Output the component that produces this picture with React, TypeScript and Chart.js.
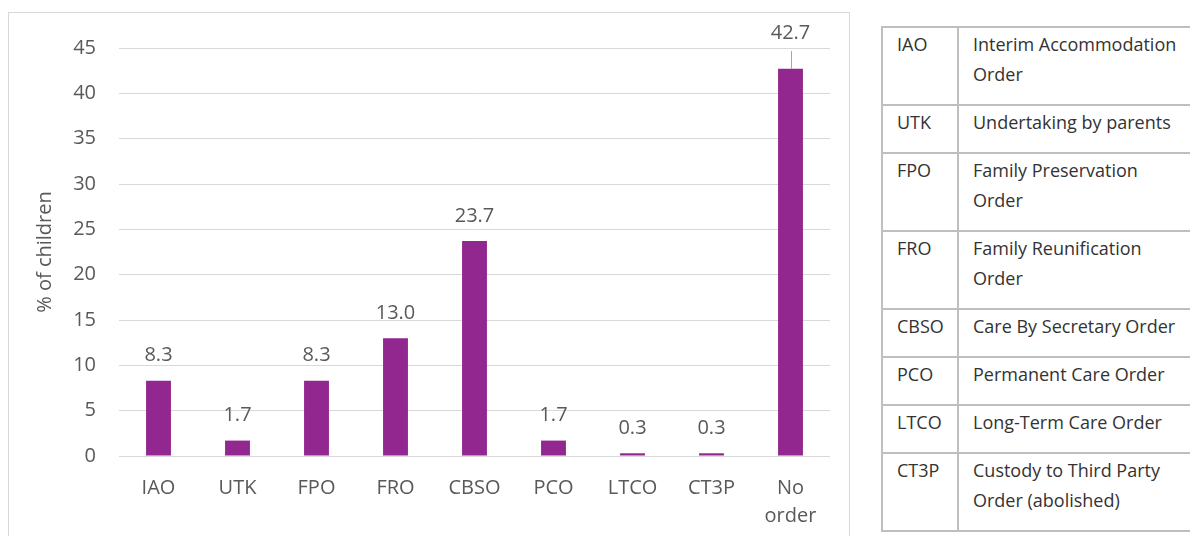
import React, { useEffect, useRef } from "react";
import { Chart, registerables } from "chart.js";

Chart.register(...registerables);

const categories: (string | string[])[] = ["IAO", "UTK", "FPO", "FRO", "CBSO", "PCO", "LTCO", "CT3P", ["No", "order"]];
const values = [8.3, 1.7, 8.3, 13.0, 23.7, 1.7, 0.3, 0.3, 42.7];
const yMin = 0;
const yMax = 45;
const yStep = 5;
const yTitle = "% of children";

const tableAbbr = ["IAO", "UTK", "FPO", "FRO", "CBSO", "PCO", "LTCO", "CT3P"];
const tableDesc = [
  ["Interim Accommodation", "Order"],
  ["Undertaking by parents"],
  ["Family Preservation", "Order"],
  ["Family Reunification", "Order"],
  ["Care By Secretary Order"],
  ["Permanent Care Order"],
  ["Long-Term Care Order"],
  ["Custody to Third Party", "Order (abolished)"],
];

const FONT = "'Open Sans', 'DejaVu Sans', sans-serif";
const GREY = "#595959";

const valueLabels = {
  id: "valueLabels",
  afterDatasetsDraw(chart: any) {
    const ctx = chart.ctx;
    const meta = chart.getDatasetMeta(0);
    const area = chart.chartArea;
    ctx.save();
    ctx.font = `20px ${FONT}`;
    ctx.fillStyle = GREY;
    ctx.textAlign = "center";
    ctx.textBaseline = "middle";
    meta.data.forEach((bar: any, i: number) => {
      const v = values[i];
      const top = bar.y;
      let ly = top - 25;
      if (ly < area.top) {
        ly = area.top - 15;
        ctx.strokeStyle = "#a6a6a6";
        ctx.lineWidth = 1;
        ctx.beginPath();
        ctx.moveTo(Math.round(bar.x) + 0.5, area.top + 3);
        ctx.lineTo(Math.round(bar.x) + 0.5, top);
        ctx.stroke();
      }
      ctx.fillText(v.toFixed(1), bar.x, ly);
    });
    ctx.restore();
  },
};

function BarChart() {
  const ref = useRef<HTMLCanvasElement | null>(null);
  useEffect(() => {
    if (!ref.current) return;
    const chart = new Chart(ref.current, {
      type: "bar",
      data: {
        labels: categories as any,
        datasets: [
          {
            data: values,
            backgroundColor: "#92278f",
            barPercentage: 0.63,
            categoryPercentage: 0.5,
          },
        ],
      },
      options: {
        animation: false,
        responsive: true,
        maintainAspectRatio: false,
        layout: { padding: { left: 0, right: 19, top: 34, bottom: 0 } },
        plugins: { legend: { display: false }, tooltip: { enabled: false } },
        scales: {
          x: {
            grid: { display: false, drawTicks: false },
            border: { display: false },
            ticks: {
              color: GREY,
              font: { family: FONT, size: 20, lineHeight: 1.4 },
              padding: 18,
              maxRotation: 0,
              autoSkip: false,
            },
            afterFit: (s: any) => {
              s.height = 80;
            },
          },
          y: {
            min: yMin,
            max: yMax,
            grid: { color: "#d9d9d9", lineWidth: 1, drawTicks: false },
            border: { display: false },
            ticks: {
              stepSize: yStep,
              color: GREY,
              font: { family: FONT, size: 20 },
              padding: 23,
            },
            title: {
              display: true,
              text: yTitle,
              color: GREY,
              font: { family: FONT, size: 20 },
              padding: { top: 24, bottom: 0 },
            },
            afterFit: (s: any) => {
              s.width = 110;
            },
          },
        },
      },
      plugins: [valueLabels],
    });
    return () => chart.destroy();
  }, []);
  return <canvas ref={ref} />;
}

export default function App() {
  return (
    <div style={{ position: "fixed", left: 0, top: 0, width: 1190, height: 536, overflow: "hidden", background: "#fff" }}>
      <div
        style={{
          position: "absolute",
          left: 8,
          top: 12,
          width: 842,
          height: 560,
          border: "1px solid #d9d9d9",
          boxSizing: "border-box",
        }}
      />
      <div style={{ position: "absolute", left: 9, top: 13, width: 840, height: 523 }}>
        <BarChart />
      </div>
      <table
        style={{
          position: "absolute",
          left: 881,
          top: 26,
          width: 330,
          borderCollapse: "collapse",
          fontFamily: FONT,
          fontSize: 18,
          lineHeight: "30px",
          color: "#333333",
        }}
      >
        <tbody>
          {tableAbbr.map((a, i) => (
            <tr key={a}>
              <td
                style={{
                  border: "2px solid #bfbfbf",
                  width: 60,
                  padding: "1px 0 15px 14px",
                  verticalAlign: "top",
                  whiteSpace: "nowrap",
                }}
              >
                {a}
              </td>
              <td
                style={{
                  border: "2px solid #bfbfbf",
                  padding: "1px 0 15px 14px",
                  verticalAlign: "top",
                  whiteSpace: "nowrap",
                }}
              >
                {tableDesc[i].map((l, j) => (
                  <div key={j}>{l}</div>
                ))}
              </td>
            </tr>
          ))}
        </tbody>
      </table>
    </div>
  );
}
